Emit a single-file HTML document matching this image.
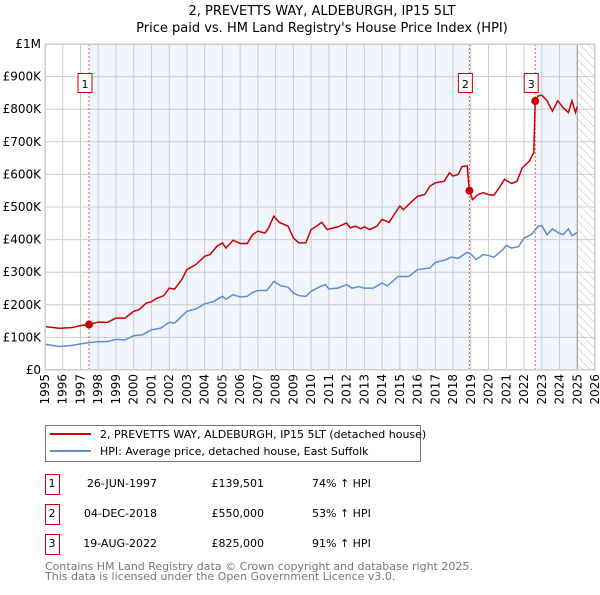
<!DOCTYPE html>
<html><head><meta charset="utf-8">
<style>
body{margin:0;background:#fff;font-family:"Liberation Sans","DejaVu Sans",sans-serif;}
svg text{font-family:"DejaVu Sans","Liberation Sans",sans-serif;}
</style></head>
<body>
<svg id="chart" width="600" height="590" xmlns="http://www.w3.org/2000/svg">
<defs>
<pattern id="hatch" patternUnits="userSpaceOnUse" width="6" height="6" patternTransform="rotate(-45)">
<line x1="0" y1="0" x2="0" y2="6" stroke="#bbb" stroke-width="1"/>
</pattern>
</defs>
<text x="322" y="15" text-anchor="middle" font-size="13">2, PREVETTS WAY, ALDEBURGH, IP15 5LT</text>
<text x="322" y="32" text-anchor="middle" font-size="13">Price paid vs. HM Land Registry's House Price Index (HPI)</text>
<g id="plot"></g>
<g>
<rect x="45.5" y="425.5" width="375" height="36" fill="#fff" stroke="#777"/>
<line x1="50" y1="434" x2="91" y2="434" stroke="#cc0000" stroke-width="2"/>
<text x="100" y="438" font-size="11">2, PREVETTS WAY, ALDEBURGH, IP15 5LT (detached house)</text>
<line x1="50" y1="451" x2="91" y2="451" stroke="#5b8fd4" stroke-width="2"/>
<text x="100" y="455" font-size="11">HPI: Average price, detached house, East Suffolk</text>
</g>
<g id="table" font-size="11"></g>
<text x="45" y="570" font-size="11" fill="#777">Contains HM Land Registry data © Crown copyright and database right 2025.</text>
<text x="45" y="580" font-size="11" fill="#777">This data is licensed under the Open Government Licence v3.0.</text>
</svg>
<script>
const redYears=[1995,1995.8,1996.5,1997,1997.48,1998,1998.5,1999,1999.5,2000,2000.3,2000.7,2001,2001.3,2001.7,2002,2002.3,2002.7,2003,2003.5,2004,2004.3,2004.7,2005,2005.2,2005.6,2006,2006.4,2006.7,2007,2007.4,2007.6,2007.9,2008.2,2008.7,2009,2009.3,2009.7,2010,2010.3,2010.6,2010.9,2011.5,2012,2012.2,2012.5,2012.8,2013,2013.3,2013.7,2014,2014.4,2014.8,2015,2015.2,2015.6,2016,2016.4,2016.7,2017,2017.5,2017.8,2018,2018.3,2018.5,2018.8,2018.92,2019.1,2019.4,2019.7,2020,2020.3,2020.6,2020.9,2021.3,2021.6,2021.9,2022.3,2022.55,2022.63,2022.8,2023,2023.3,2023.6,2023.9,2024.2,2024.5,2024.7,2024.9,2025.0];
const redValues=[133,128,130,136,139.5,147,146,159,159,180,185,205,210,220,228,251,248,277,308,323,349,354,380,390,374,398,388,388,415,426,420,436,472,453,441,405,390,390,431,441,453,431,439,451,436,441,433,439,431,441,462,453,487,503,492,513,533,538,564,574,579,605,595,600,624,626,550,523,538,544,538,536,559,585,572,579,620,641,667,825,841,843,826,794,826,805,790,826,790,808];
const hpiYears=[1995,1995.8,1996.5,1997,1997.5,1998,1998.5,1999,1999.5,2000,2000.5,2001,2001.5,2002,2002.3,2003,2003.5,2004,2004.5,2005,2005.2,2005.6,2006,2006.4,2006.7,2007,2007.5,2007.9,2008.3,2008.7,2009,2009.3,2009.7,2010,2010.5,2010.8,2011,2011.5,2012,2012.3,2012.7,2013,2013.5,2014,2014.3,2014.9,2015.5,2016,2016.7,2017,2017.6,2017.9,2018.3,2018.8,2019,2019.3,2019.7,2020,2020.3,2020.8,2021,2021.3,2021.7,2022,2022.4,2022.8,2023,2023.3,2023.6,2023.9,2024.2,2024.5,2024.7,2025];
const hpiValues=[79,72,75,80,84,87,87,94,92,105,108,123,128,146,144,180,187,203,210,226,217,231,224,226,238,244,244,272,258,254,236,228,226,241,256,262,249,251,262,251,256,251,251,267,258,287,287,308,313,330,338,346,343,361,356,339,354,351,346,369,382,374,379,405,415,441,443,415,433,422,415,433,412,422];
const yTicks=[0,100,200,300,400,500,600,700,800,900,1000];
const yTickLabels=["£0","£100K","£200K","£300K","£400K","£500K","£600K","£700K","£800K","£900K","£1M"];
const xTickYears=[1995,1996,1997,1998,1999,2000,2001,2002,2003,2004,2005,2006,2007,2008,2009,2010,2011,2012,2013,2014,2015,2016,2017,2018,2019,2020,2021,2022,2023,2024,2025,2026];
const saleYears=[1997.48,2018.92,2022.63];
const saleValues=[139.5,550,825];
const saleLabels=["1","2","3"];
const saleDates=["26-JUN-1997","04-DEC-2018","19-AUG-2022"];
const salePrices=["£139,501","£550,000","£825,000"];
const saleHpi=["74% ↑ HPI","53% ↑ HPI","91% ↑ HPI"];

const X0=45,X1=595,Y0=370,Y1=44;
const x=y=>X0+(y-1995)/(2026-1995)*(X1-X0);
const yv=v=>Y0-v/1000*(Y0-Y1);
const NS="http://www.w3.org/2000/svg";
const plot=document.getElementById('plot');
function mk(tag,attrs,parent){const e=document.createElementNS(NS,tag);for(const k in attrs)e.setAttribute(k,attrs[k]);(parent||plot).appendChild(e);return e;}

let r=mk('rect',{x:x(saleYears[0]),y:Y1,width:x(saleYears[1])-x(saleYears[0]),height:Y0-Y1,fill:'#f1f5fd'});


r=mk('rect',{x:x(saleYears[2]),y:Y1,width:x(2025)-x(saleYears[2]),height:Y0-Y1,fill:'#f1f5fd'});


r=mk('rect',{x:x(2025),y:Y1,width:X1-x(2025),height:Y0-Y1,fill:'url(#hatch)'});



yTicks.forEach((t,i)=>{
 const l=mk('line',{x1:X0,x2:X1,y1:yv(t),y2:yv(t),stroke:'#ccc','stroke-width':1});
 
 
 const tx=mk('text',{x:X0-4,y:yv(t)+4,'text-anchor':'end','font-size':12});
 tx.textContent=yTickLabels[i];
 
 
});
xTickYears.forEach(yr=>{
 const l=mk('line',{x1:x(yr),x2:x(yr),y1:Y1,y2:Y0,stroke:'#ccc','stroke-width':1});
 
 
 const tx=mk('text',{x:0,y:0,'text-anchor':'end','font-size':12,transform:`translate(${x(yr)+4},${Y0+4}) rotate(-90)`});
 tx.textContent=yr;
 
 
});
let v=mk('line',{x1:x(2025),x2:x(2025),y1:Y1,y2:Y0,stroke:'#999','stroke-width':1});



saleYears.forEach((s,i)=>{
 const l=mk('line',{x1:x(s),x2:x(s),y1:Y1,y2:Y0,stroke:'#e06060','stroke-width':1,'stroke-dasharray':'2,2'});
 
 
});

const hp=mk('polyline',{points:hpiYears.map((t,i)=>x(t)+','+yv(hpiValues[i])).join(' '),fill:'none',stroke:'#5b8fd4','stroke-width':1.5});


const rp=mk('polyline',{points:redYears.map((t,i)=>x(t)+','+yv(redValues[i])).join(' '),fill:'none',stroke:'#cc0000','stroke-width':1.5});



saleYears.forEach((s,i)=>{
 const c=mk('circle',{cx:x(s),cy:yv(saleValues[i]),r:4,fill:'#cc0000'});
 
 
 const b=mk('rect',{x:x(s)-11,y:73.5,width:14,height:19,fill:'#fff',stroke:'#cc0000'});
 
 
 const t=mk('text',{x:x(s)-4,y:88,'text-anchor':'middle','font-size':11});
 t.textContent=saleLabels[i];
 
 
});
const fr=mk('rect',{x:X0+0.5,y:Y1+0.5,width:X1-X0-1,height:Y0-Y1-1,fill:'none',stroke:'#ccc'});



const tbl=document.getElementById('table');
saleLabels.forEach((lab,i)=>{
 const cy=490+i*30;
 const b=mk('rect',{x:45.5,y:cy-15.5,width:14,height:20,fill:'#fff',stroke:'#cc0000'},tbl);
 
 
 const cells=[[52,lab,'middle'],[157,saleDates[i],'end'],[264,salePrices[i],'end'],[312,saleHpi[i],'start']];
 const names=['marker-number','sale-date','sale-price','hpi-change'];
 cells.forEach((c,j)=>{
  const t=mk('text',{x:c[0],y:cy-3,'text-anchor':c[2],'font-size':11},tbl);
  t.textContent=c[1];
  
  
 });
});
</script>
</body></html>
